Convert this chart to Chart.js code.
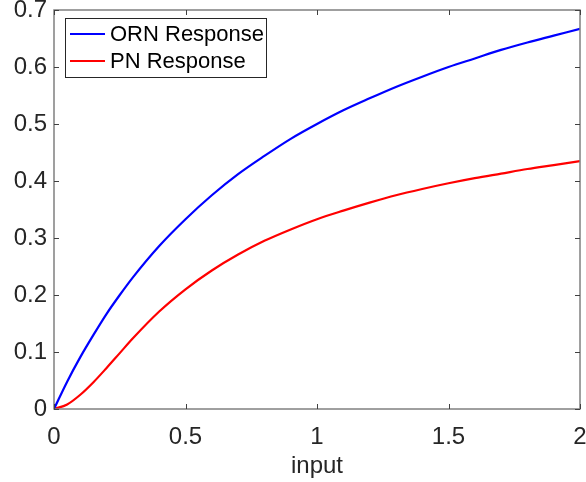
<!DOCTYPE html>
<html>
<head>
<meta charset="utf-8">
<script src="https://cdn.jsdelivr.net/npm/chart.js@4/dist/chart.umd.min.js"></script>
<style>
  html, body { margin: 0; padding: 0; background: #fff; }
  #wrap { width: 586px; height: 482px; position: relative; }
</style>
</head>
<body>
<div id="wrap"><canvas id="c" width="586" height="482"></canvas></div>
<script>
// ---- data ----
const inputValues = [0, 0.05, 0.1, 0.15, 0.2, 0.25, 0.3, 0.4, 0.5, 0.6, 0.7, 0.8, 0.9, 1.0,
                     1.1, 1.2, 1.3, 1.4, 1.5, 1.6, 1.7, 1.8, 1.9, 2.0];
const ornResponse = [0, 0.048, 0.091, 0.130, 0.167, 0.200, 0.231, 0.286, 0.333, 0.375, 0.412, 0.444, 0.474, 0.500,
                     0.524, 0.545, 0.565, 0.583, 0.600, 0.615, 0.630, 0.643, 0.655, 0.667];
const pnResponse  = [0, 0.008, 0.025, 0.047, 0.072, 0.098, 0.124, 0.171, 0.210, 0.243, 0.271, 0.295, 0.315, 0.333,
                     0.348, 0.362, 0.375, 0.386, 0.396, 0.405, 0.413, 0.421, 0.428, 0.435];
const seriesNames = ['ORN Response', 'PN Response'];
const xTickValues = [0, 0.5, 1, 1.5, 2];
const xTickLabels = ['0', '0.5', '1', '1.5', '2'];
const yTickValues = [0, 0.1, 0.2, 0.3, 0.4, 0.5, 0.6, 0.7];
const yTickLabels = ['0', '0.1', '0.2', '0.3', '0.4', '0.5', '0.6', '0.7'];
const xAxisTitle = 'input';

const FONT = "'Liberation Sans', Arial, sans-serif";
const TXT = '#262626';
const AXC = '#808080';
const AXFS = 24;

function pts(xs, ys) { return xs.map((x, i) => ({ x: x, y: ys[i] })); }

const matlabAxes = {
  id: 'matlabAxes',
  afterDatasetsDraw(chart) {
    const ctx = chart.ctx, a = chart.chartArea;
    const xs = chart.scales.x, ys = chart.scales.y;
    ctx.save();
    ctx.strokeStyle = AXC;
    ctx.lineWidth = 1.5;
    ctx.strokeRect(a.left, a.top, a.right - a.left, a.bottom - a.top);
    ctx.lineWidth = 1;
    ctx.strokeStyle = '#404040';
    const L = 5;
    ctx.beginPath();
    xTickValues.forEach(v => {
      const p = Math.round(xs.getPixelForValue(v)) + 0.5;
      ctx.moveTo(p, a.bottom); ctx.lineTo(p, a.bottom - L);
      ctx.moveTo(p, a.top); ctx.lineTo(p, a.top + L);
    });
    yTickValues.forEach(v => {
      const p = Math.round(ys.getPixelForValue(v)) + 0.5;
      ctx.moveTo(a.left, p); ctx.lineTo(a.left + L, p);
      ctx.moveTo(a.right, p); ctx.lineTo(a.right - L, p);
    });
    ctx.stroke();

    // legend box inside plot area
    const bx = 65, by = 18, bw = 201, bh = 59;
    ctx.fillStyle = '#fff';
    ctx.fillRect(bx, by, bw, bh);
    ctx.strokeStyle = '#262626';
    ctx.lineWidth = 1;
    ctx.strokeRect(bx + 0.5, by + 0.5, bw, bh);
    ctx.font = '22px ' + FONT;
    ctx.textBaseline = 'middle';
    ctx.textAlign = 'left';
    chart.data.datasets.forEach((ds, i) => {
      const yy = by + 16 + i * 27;
      ctx.strokeStyle = ds.borderColor;
      ctx.lineWidth = 2;
      ctx.beginPath();
      ctx.moveTo(bx + 5, yy); ctx.lineTo(bx + 40, yy);
      ctx.stroke();
      ctx.fillStyle = '#000';
      ctx.fillText(ds.label, bx + 45, yy + 1);
    });
    ctx.restore();
  }
};

new Chart(document.getElementById('c'), {
  type: 'line',
  data: {
    datasets: [
      { label: seriesNames[0], data: pts(inputValues, ornResponse), borderColor: '#0000ff',
        borderWidth: 2.2, pointRadius: 0, cubicInterpolationMode: 'monotone', fill: false },
      { label: seriesNames[1], data: pts(inputValues, pnResponse), borderColor: '#ff0000',
        borderWidth: 2.2, pointRadius: 0, cubicInterpolationMode: 'monotone', fill: false }
    ]
  },
  options: {
    responsive: false,
    animation: false,
    devicePixelRatio: 1,
    layout: { padding: { left: 0, right: 6, top: 10, bottom: 0 } },
    plugins: { legend: { display: false }, tooltip: { enabled: false } },
    scales: {
      x: {
        type: 'linear', min: 0, max: 2,
        afterBuildTicks(s) { s.ticks = xTickValues.map(v => ({ value: v })); },
        ticks: {
          callback: (v) => xTickLabels[xTickValues.indexOf(v)] ?? '',
          color: TXT, font: { family: FONT, size: AXFS }, padding: 14, maxRotation: 0
        },
        grid: { display: false, drawTicks: false },
        border: { display: false },
        title: { display: true, text: xAxisTitle, color: TXT, font: { family: FONT, size: AXFS }, padding: { top: 0, bottom: 1 } },
        afterFit(s) { s.height = 73; s.paddingLeft = 0; s.paddingRight = 0; }
      },
      y: {
        type: 'linear', min: 0, max: 0.7,
        afterBuildTicks(s) { s.ticks = yTickValues.map(v => ({ value: v })); },
        ticks: {
          callback: (v) => { const i = yTickValues.findIndex(t => Math.abs(t - v) < 1e-9); return i >= 0 ? yTickLabels[i] : ''; },
          color: TXT, font: { family: FONT, size: AXFS }, padding: 7
        },
        grid: { display: false, drawTicks: false },
        border: { display: false },
        afterFit(s) { s.width = 54; s.paddingTop = 0; s.paddingBottom = 0; }
      }
    }
  },
  plugins: [matlabAxes]
});
</script>
</body>
</html>
